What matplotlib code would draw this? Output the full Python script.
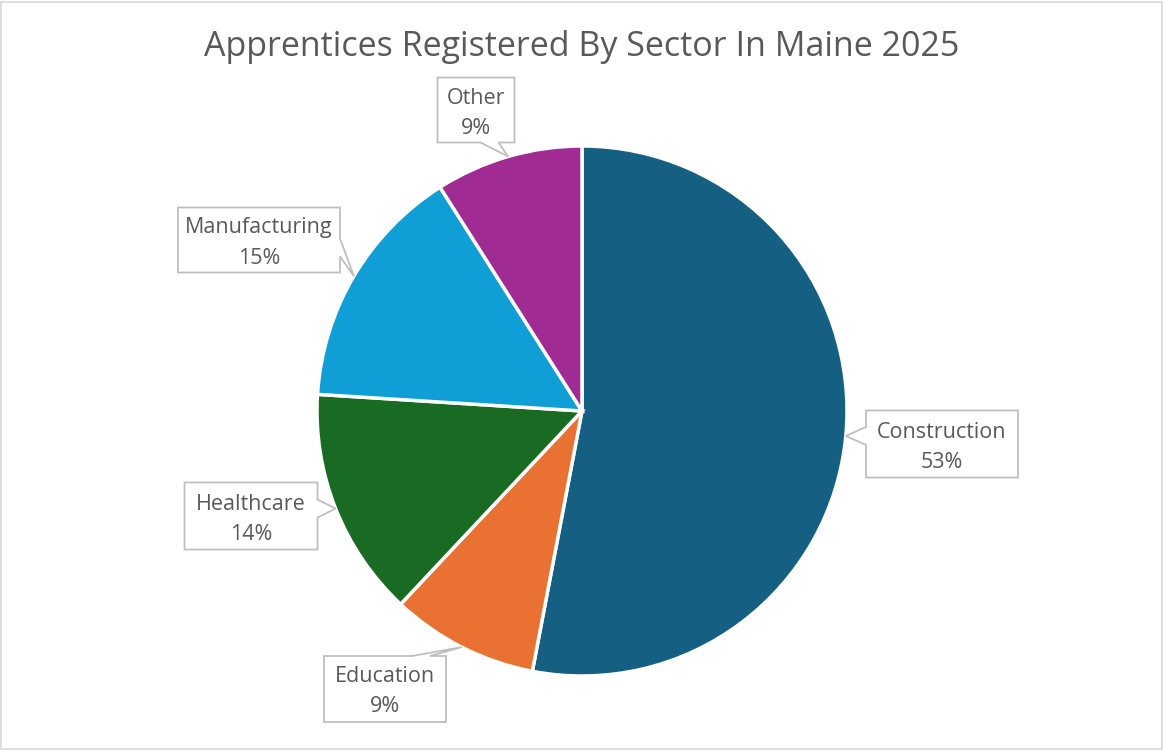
import numpy as np
import matplotlib.pyplot as plt
from matplotlib.patches import Polygon, Rectangle

plt.rcParams['font.family'] = ['Open Sans', 'DejaVu Sans']

# Data
sectors = ['Construction', 'Education', 'Healthcare', 'Manufacturing', 'Other']
shares = [53, 9, 14, 15, 9]
colors = ['#156082', '#E97132', '#196B24', '#0F9ED5', '#A02B93']
title = 'Apprentices Registered By Sector In Maine 2025'

# Callout boxes in pixel layout (center x, center y, width, height), pointer side
boxes = [(942, 444, 152, 67, 'left'),
         (385, 689, 122, 66, 'top'),
         (251, 516, 133, 67, 'right'),
         (259, 240, 162, 65, 'right'),
         (476, 110, 77, 65, 'bottom')]

W, H = 1164, 750
text_col = '#595959'

fig = plt.figure(figsize=(W / 100, H / 100), dpi=100)
ax = fig.add_axes([0, 0, 1, 1])

cx, cy, r = 582, 411, 265
wedges, _ = ax.pie(shares, colors=colors, startangle=90, counterclock=False,
                   center=(cx, H - cy), radius=r,
                   wedgeprops=dict(edgecolor='white', linewidth=2.5))
ax.set_xlim(0, W)
ax.set_ylim(0, H)
ax.set_aspect('equal')
ax.axis('off')


def callout(name, pct, box, tip):
    bx, by, bw, bh, side = box
    x0, x1 = bx - bw / 2, bx + bw / 2
    y0, y1 = by - bh / 2, by + bh / 2
    tx, ty = tip
    m, hw = 16, 9
    if side in ('left', 'right'):
        c = min(max(ty, y0 + m + hw), y1 - m - hw)
    else:
        c = min(max(tx, x0 + m + hw), x1 - m - hw)
    b0, b1 = c - hw, c + hw
    TL, TR, BR, BL = (x0, y0), (x1, y0), (x1, y1), (x0, y1)
    if side == 'top':
        pts = [TL, (b0, y0), tip, (b1, y0), TR, BR, BL]
    elif side == 'right':
        pts = [TL, TR, (x1, b0), tip, (x1, b1), BR, BL]
    elif side == 'bottom':
        pts = [TL, TR, BR, (b1, y1), tip, (b0, y1), BL]
    else:
        pts = [TL, TR, BR, BL, (x0, b1), tip, (x0, b0)]
    pts = [(p[0], H - p[1]) for p in pts]
    ax.add_patch(Polygon(pts, closed=True, facecolor='white',
                         edgecolor='#BFBFBF', linewidth=1.3, zorder=5))
    ax.text(bx, H - (by - 12), name, ha='center', va='center',
            fontsize=15.5, color=text_col, zorder=6)
    ax.text(bx, H - (by + 18), f'{pct}%', ha='center', va='center',
            fontsize=15.5, color=text_col, zorder=6)


for w, name, pct, box in zip(wedges, sectors, shares, boxes):
    mid = np.deg2rad((w.theta1 + w.theta2) / 2)
    tip = (cx + r * np.cos(mid), cy - r * np.sin(mid))
    callout(name, pct, box, tip)

ax.text(W / 2, H - 47, title, ha='center', va='center',
        fontsize=24.5, color=text_col)

fig.add_artist(Rectangle((0.001, 0.001), 0.997, 0.997, transform=fig.transFigure,
                         fill=False, edgecolor='#D9D9D9', linewidth=1.2))

fig.savefig('out.png', dpi=100, facecolor='white')
